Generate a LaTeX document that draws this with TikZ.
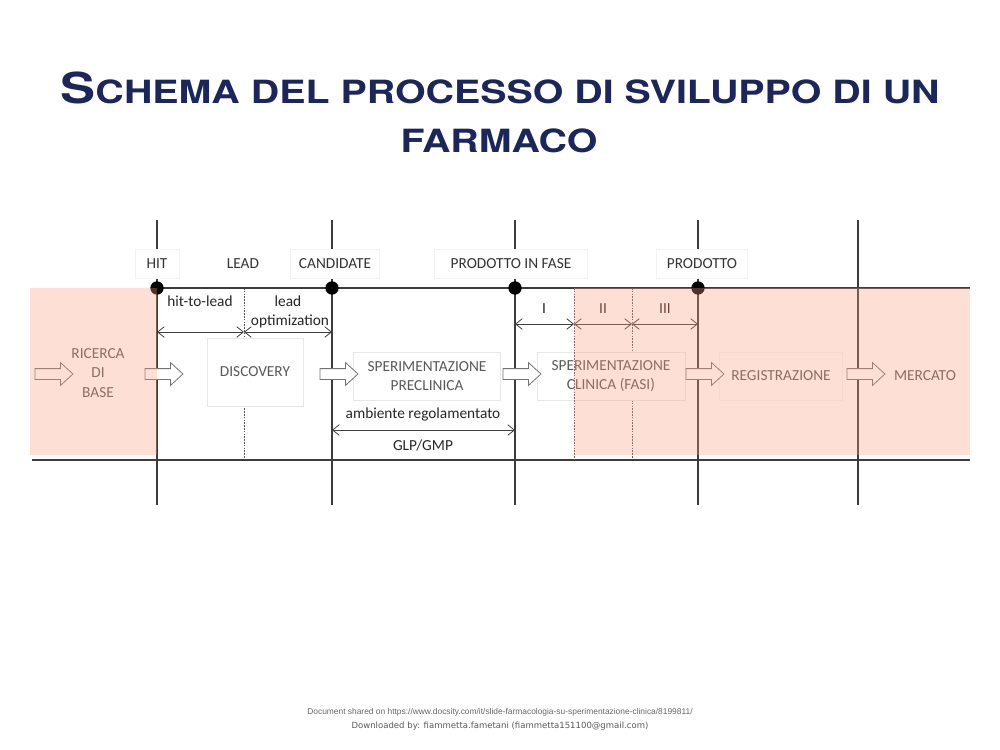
\documentclass[tikz,border=0pt]{standalone}
\usepackage{fontspec}
\setmainfont{Carlito}
\newfontfamily\titlefont{TeX Gyre Heros}
\newfontfamily\footA{Liberation Sans}
\newfontfamily\footB{DejaVu Sans}
\usetikzlibrary{arrows.meta,shapes.arrows}
\definecolor{navy}{RGB}{27,38,92}
\definecolor{pinkov}{RGB}{250,156,125}
\definecolor{linec}{RGB}{60,60,60}
\begin{document}
\begin{tikzpicture}[x=0.75pt,y=-0.75pt,
  every node/.style={font=\fontsize{11.5}{14.6}\selectfont},
  vline/.style={draw=linec,line width=0.8pt},
  dline/.style={draw=linec!85,line width=0.55pt,dash pattern=on 1.2pt off 0.9pt},
  hline/.style={draw=linec,line width=0.9pt},
  dbl/.style={draw=black!75,line width=0.6pt,{Straight Barb[length=5pt,width=8pt]}-{Straight Barb[length=5pt,width=8pt]}},
  lbl/.style={fill=white,draw=black!5,text=black!80,inner sep=0pt,minimum height=21.75pt},
  txt/.style={text=black!85,inner sep=0pt},
  boxn/.style={fill=white,draw=black!9,text=black!65,align=center,inner sep=0pt},
  blk/.style={single arrow,draw=black!55,fill=white,line width=0.6pt,minimum height=28.5pt,single arrow head extend=4.5pt,single arrow tip angle=85,inner sep=0pt,outer sep=0pt},
  dot/.style={circle,fill=black,inner sep=0pt,minimum size=10pt},
  title/.style={text=navy,inner sep=0pt,font=\titlefont\bfseries\fontsize{24}{28}\selectfont},
]
\useasboundingbox (0,0) rectangle (1000,750);
% coordinates
\coordinate (hitT) at (157,220); \coordinate (hitB) at (157,505);
\coordinate (canT) at (332,220); \coordinate (canB) at (332,505);
\coordinate (pifT) at (515,220); \coordinate (pifB) at (515,505);
\coordinate (proT) at (698,220); \coordinate (proB) at (698,505);
\coordinate (merT) at (858,220); \coordinate (merB) at (858,505);
\coordinate (leaT) at (244,288); \coordinate (leaB) at (244,460);
\coordinate (f2T) at (574,288); \coordinate (f2B) at (574,460);
\coordinate (f3T) at (632,288); \coordinate (f3B) at (632,460);
\coordinate (topL) at (157,288); \coordinate (topR) at (970,288);
\coordinate (botL) at (32,460); \coordinate (botR) at (970,460);
\coordinate (a1L) at (157,332); \coordinate (a1M) at (244,332); \coordinate (a1R) at (332,332);
\coordinate (pI) at (515,324); \coordinate (pII) at (574,324); \coordinate (pIII) at (632,324); \coordinate (pE) at (698,324);
\coordinate (gL) at (332,430); \coordinate (gR) at (515,430);
% lines
\draw[vline] (hitT) -- (hitB);
\draw[vline] (canT) -- (canB);
\draw[vline] (pifT) -- (pifB);
\draw[vline] (proT) -- (proB);
\draw[vline] (merT) -- (merB);
\draw[dline] (leaT) -- (leaB);
\draw[dline] (f3T) -- (f3B);
\draw[hline] (topL) -- (topR);
\draw[hline] (botL) -- (botR);
% boxes
\node[boxn,minimum width=72pt,minimum height=51pt] (disc) at (255,372) {DISCOVERY};
\node[boxn,minimum width=110pt,minimum height=36pt] (precl) at (427,376) {SPERIMENTAZIONE\\PRECLINICA};
\node[boxn,minimum width=111pt,minimum height=36pt] (clin) at (611,376) {SPERIMENTAZIONE\\CLINICA (FASI)};
\node[boxn,draw=black!4,minimum width=92pt,minimum height=36pt] (reg) at (781,376) {REGISTRAZIONE};
\node[boxn,draw=none,minimum width=64pt,minimum height=36pt] (merc) at (925,376) {MERCATO};
\node[txt,text=black!65,align=center] (ric) at (98,373) {RICERCA\\DI\\BASE};
\draw[dline] (f2T) -- (f2B);
% top labels
\node[lbl,minimum width=33pt] (lHIT) at (157,264) {HIT};
\node[lbl,draw=none,minimum width=40pt] (lLEAD) at (243,264) {LEAD};
\node[lbl,minimum width=67pt] (lCAN) at (335,264) {CANDIDATE};
\node[lbl,minimum width=115pt] (lPIF) at (511,264) {PRODOTTO IN FASE};
\node[lbl,minimum width=68pt] (lPRO) at (702,264) {PRODOTTO};
% small texts
\node[txt] (h2l) at (200,301) {hit-to-lead};
\node[txt] (lo1) at (288,301) {lead};
\node[txt] (lo2) at (290,321) {optimization};
\node[txt] (tI) at (544,309) {I};
\node[txt] (tII) at (603,309) {II};
\node[txt] (tIII) at (665,309) {III};
\node[txt] (amb) at (423,414) {ambiente regolamentato};
\node[txt] (glp) at (423,445) {GLP/GMP};
% double arrows
\draw[dbl] (a1L) -- (a1M);
\draw[dbl] (a1M) -- (a1R);
\draw[dbl] (pI) -- (pII);
\draw[dbl] (pII) -- (pIII);
\draw[dbl] (pIII) -- (pE);
\draw[dbl] (gL) -- (gR);
% dots
\node[dot] (dHIT) at (157,288) {};
\node[dot] (dCAN) at (332,288) {};
\node[dot] (dPIF) at (515,288) {};
\node[dot] (dPRO) at (698,288) {};
% block arrows
\node[blk] (b1) at (51,374) {\rule{0pt}{7.5pt}};
\node[blk] (b2) at (161,374) {\rule{0pt}{7.5pt}};
\node[blk] (b3) at (336,374) {\rule{0pt}{7.5pt}};
\node[blk] (b4) at (519,374) {\rule{0pt}{7.5pt}};
\node[blk] (b5) at (702,374) {\rule{0pt}{7.5pt}};
\node[blk] (b6) at (863,374) {\rule{0pt}{7.5pt}};
% pink overlay
\fill[pinkov,fill opacity=0.32] (30,288) rectangle (157,455);
\fill[pinkov,fill opacity=0.32] (574,288) rectangle (970,455);
% title
\node[title,anchor=base] (t1) at (500,103) {\scalebox{1.23}[1]{{\fontsize{32}{36}\selectfont S}CHEMA DEL PROCESSO DI SVILUPPO DI UN}};
\node[title,anchor=base] (t2) at (499,152) {\scalebox{1.23}[1]{FARMACO}};
% footer
\node[inner sep=0pt,text=black!60,font=\footA\fontsize{6.3}{7}\selectfont] (f1) at (500,712) {Document shared on https://www.docsity.com/it/slide-farmacologia-su-sperimentazione-clinica/8199811/};
\node[inner sep=0pt,text=black!65,font=\footB\fontsize{6.4}{7}\selectfont] (f2) at (500,726) {Downloaded by: fiammetta.fametani (fiammetta151100@gmail.com)};
\end{tikzpicture}
\end{document}
